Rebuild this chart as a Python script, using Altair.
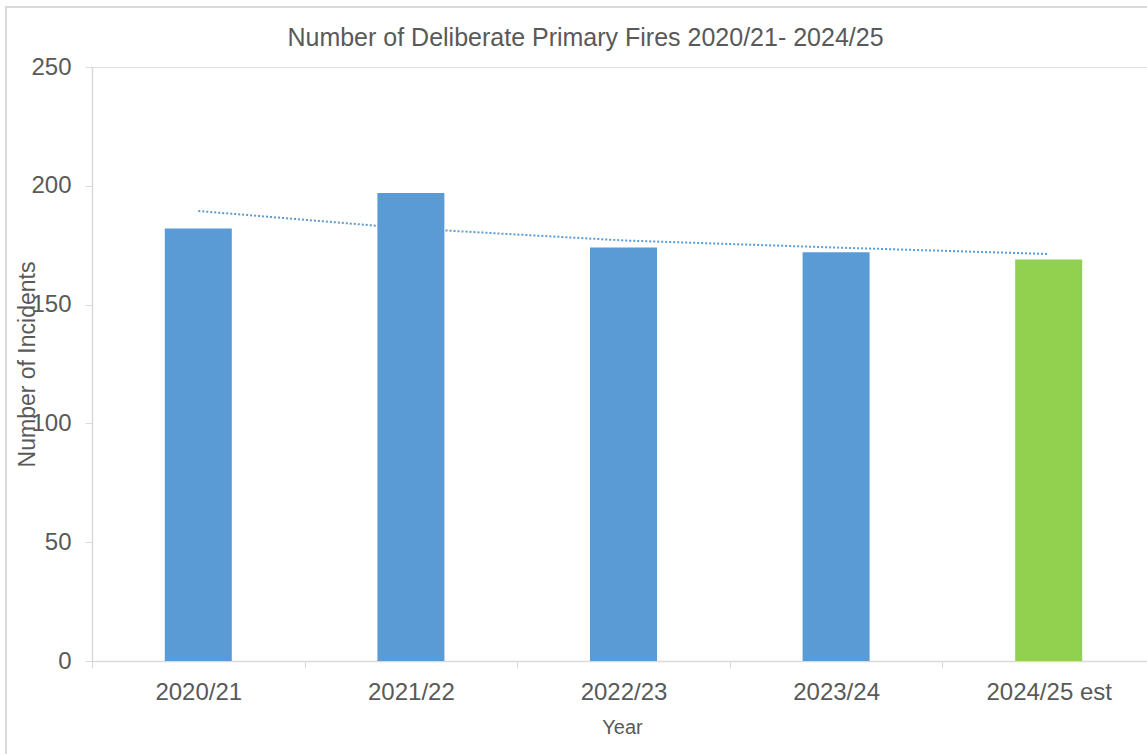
import altair as alt
import pandas as pd

years = ["2020/21", "2021/22", "2022/23", "2023/24", "2024/25 est"]
incidents = [182, 197, 174, 172, 169]
trend = [189.4, 182.0, 177.0, 174.0, 171.3]
status = ["Actual", "Actual", "Actual", "Actual", "Estimate"]
y_ticks = [0, 50, 100, 150, 200, 250]

df = pd.DataFrame({"Year": years, "Incidents": incidents, "Trend": trend, "Status": status})

FONT = "Liberation Sans"
GREY = "#595959"
LINE = "#d9d9d9"

x_enc = alt.X(
    "Year:N",
    sort=years,
    scale=alt.Scale(paddingInner=0, paddingOuter=0, range=[0, 1063]),
    axis=alt.Axis(
        title="Year",
        labelAngle=0,
        labelFontSize=24,
        labelColor=GREY,
        labelFont=FONT,
        labelPadding=12,
        tickBand="extent",
        tickSize=7,
        tickColor=LINE,
        domainColor=LINE,
        domainWidth=1.5,
        titleFont=FONT,
        titleFontSize=20,
        titleFontWeight="normal",
        titleColor=GREY,
        titleX=530,
        titleY=66,
        titleBaseline="middle",
    ),
)

y_enc = alt.Y(
    "Incidents:Q",
    scale=alt.Scale(domain=[0, 250], nice=False),
    axis=alt.Axis(
        title="Number of Incidents",
        values=y_ticks,
        grid=False,
        labelFontSize=24,
        labelColor=GREY,
        labelFont=FONT,
        labelPadding=14,
        tickSize=7,
        tickColor=LINE,
        domainColor=LINE,
        domainWidth=1.5,
        titleFont=FONT,
        titleFontSize=23,
        titleFontWeight="normal",
        titleColor=GREY,
        titleAngle=-90,
        titleAlign="center",
        titleBaseline="middle",
        titleX=-65,
        titleY=297,
    ),
)

border = alt.Chart(df).mark_rect(
    fill="transparent", stroke=LINE, strokeWidth=2, clip=False
).encode(
    x=alt.value(-86), x2=alt.value(1300), y=alt.value(-60), y2=alt.value(900)
).transform_filter(alt.datum.Year == years[0])

trend_line = alt.Chart(df).mark_line(
    color="#5b9bd5", strokeWidth=2, strokeDash=[2, 2]
).encode(
    x=x_enc,
    y=alt.Y("Trend:Q"),
)

bars = alt.Chart(df).mark_bar(size=67).encode(
    x=x_enc,
    y=y_enc,
    color=alt.Color(
        "Status:N",
        scale=alt.Scale(domain=["Actual", "Estimate"], range=["#5b9bd5", "#92d050"]),
        legend=None,
    ),
)

chart = alt.layer(border, trend_line, bars).properties(
    width=1055,
    height=594,
    title=alt.TitleParams(
        "Number of Deliberate Primary Fires 2020/21- 2024/25",
        font=FONT,
        fontSize=25,
        fontWeight="normal",
        color=GREY,
        anchor="middle",
        dx=-34,
        offset=-45,
    ),
    autosize=alt.AutoSizeParams(type="none"),
    padding={"left": 92, "top": 67, "right": 0, "bottom": 93},
).configure_view(stroke=None).configure(background="white")

chart.save("out.html", embed_options={"renderer": "svg", "actions": False})
